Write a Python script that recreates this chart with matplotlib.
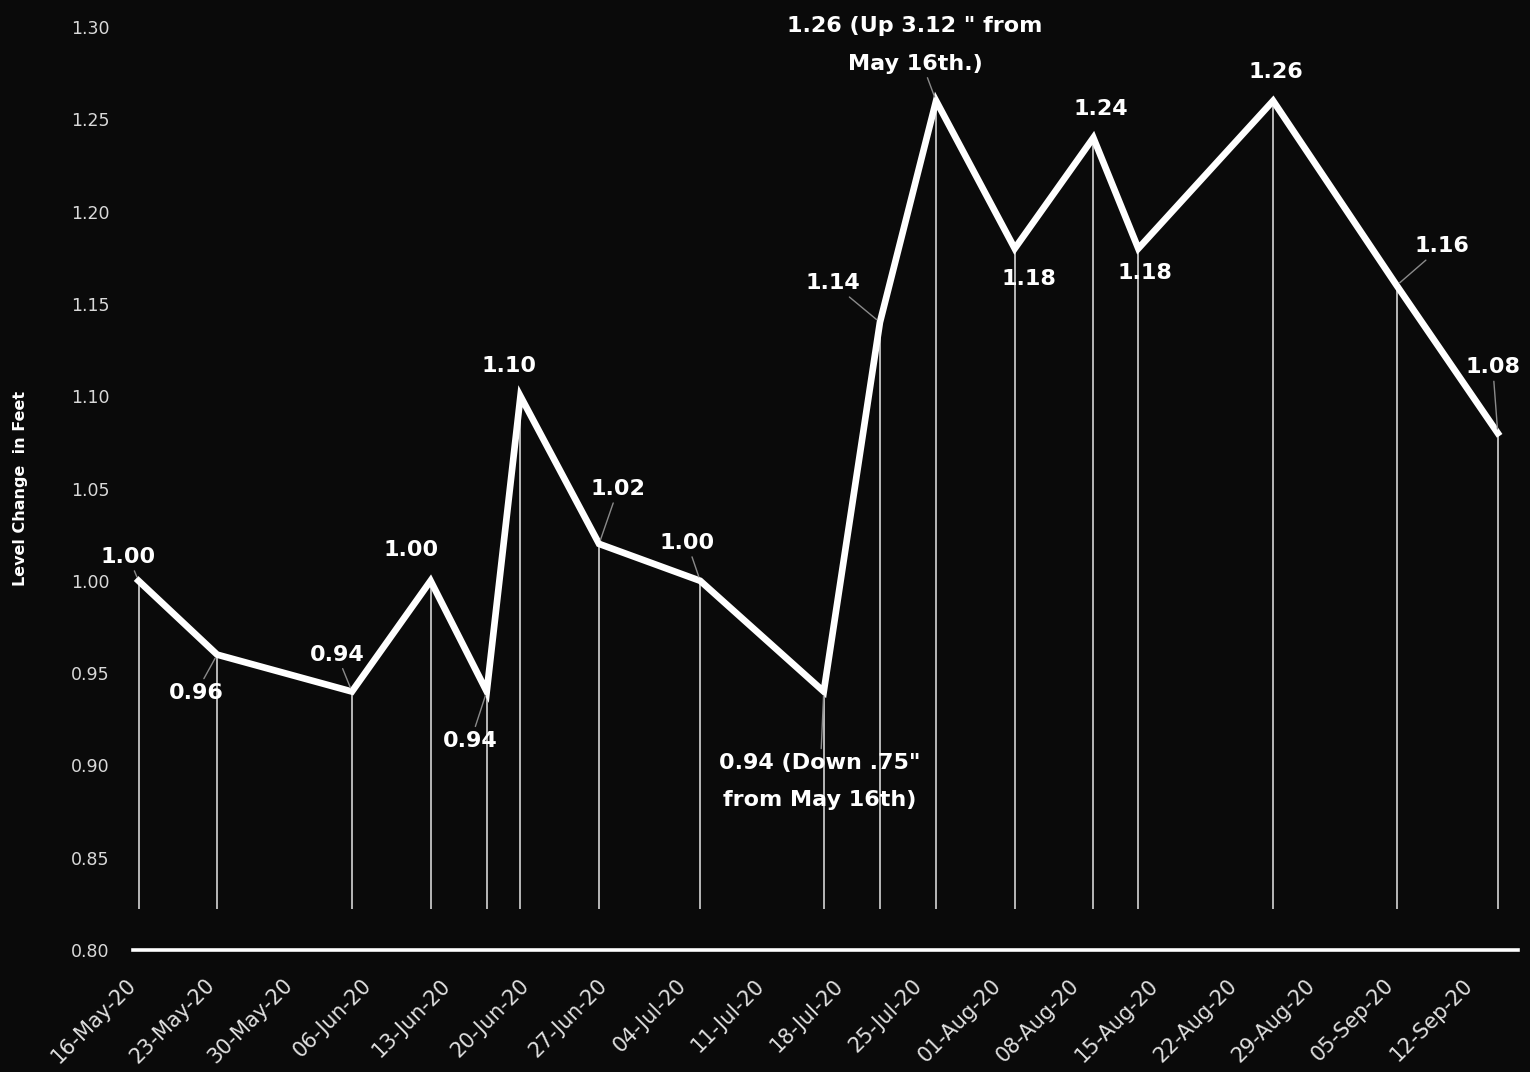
import pandas as pd
import matplotlib
matplotlib.use('Agg')
import matplotlib.pyplot as plt
import matplotlib.dates as mdates
import matplotlib.transforms as mtransforms

# readings of the level gauge
dates = pd.to_datetime(['2020-05-16', '2020-05-23', '2020-06-04', '2020-06-11',
                        '2020-06-16', '2020-06-19', '2020-06-26', '2020-07-05',
                        '2020-07-16', '2020-07-21', '2020-07-26', '2020-08-02',
                        '2020-08-09', '2020-08-13', '2020-08-25', '2020-09-05',
                        '2020-09-14'])
levels = [1.00, 0.96, 0.94, 1.00, 0.94, 1.10, 1.02, 1.00, 0.94, 1.14,
          1.26, 1.18, 1.24, 1.18, 1.26, 1.16, 1.08]
point_labels = ['1.00', '0.96', '0.94', '1.00', '0.94', '1.10', '1.02', '1.00',
                '0.94 (Down .75"\nfrom May 16th)', '1.14',
                '1.26 (Up 3.12 " from\nMay 16th.)', '1.18', '1.24', '1.18',
                '1.26', '1.16', '1.08']
tick_dates = pd.date_range('2020-05-16', '2020-09-12', freq='7D')
y_ticks = [0.80, 0.85, 0.90, 0.95, 1.00, 1.05, 1.10, 1.15, 1.20, 1.25, 1.30]

# label placement (offset in pixels from the point) and leader line flag
label_offsets = [(-10, 24), (-21, -38), (-15, 37), (-20, 31), (-16, -49),
                 (-11, 30), (19, 55), (-13, 38), (-4, -90), (-47, 39),
                 (-21, 56), (14, -30), (7, 29), (7, -24), (3, 29),
                 (45, 39), (-5, 66)]
leaders = [True, True, True, False, True, False, True, True, True, True,
           True, False, False, False, False, True, True]

BG = '#0a0a0a'
plt.rcParams['font.family'] = ['DejaVu Sans']

fig = plt.figure(figsize=(15.3, 10.72), dpi=100, facecolor=BG)
ax = fig.add_axes([133 / 1530, 1 - 950 / 1072, 1385 / 1530, 923 / 1072])
ax.set_facecolor(BG)

ax.vlines(dates, 0.822, levels, color='#e6e6e6', lw=1.1, zorder=2)
ax.plot(dates, levels, color='white', lw=4.8, solid_joinstyle='miter', zorder=3)

for d, v, txt, (dx, dy), lead in zip(dates, levels, point_labels, label_offsets, leaders):
    arrow = dict(arrowstyle='-', color='#8a8a8a', lw=1.0, shrinkA=1, shrinkB=3) if lead else None
    ax.annotate(txt, xy=(d, v), xytext=(dx, dy), textcoords='offset pixels',
                ha='center', va='center', multialignment='center',
                color='white', fontsize=16, fontweight='bold', linespacing=2.1,
                arrowprops=arrow, zorder=4)

x0 = mdates.date2num(dates[0])
ax.set_xlim(x0 - 0.49, x0 + 122.8)
ax.set_ylim(0.80, 1.30)

ax.set_xticks(tick_dates)
ax.set_yticks(y_ticks)
ax.set_yticklabels([f'{t:.2f}' for t in y_ticks], fontsize=12.5, color='#d9d9d9')
ax.tick_params(axis='x', length=0, pad=18)
ax.tick_params(axis='y', length=0, pad=17)
ax.set_xticklabels([t.strftime('%d-%b-%y') for t in tick_dates], rotation=45,
                   ha='right', va='top', rotation_mode='anchor',
                   fontsize=15, color='#e0e0e0')
shift = mtransforms.ScaledTranslation(-13 / 100, 0, fig.dpi_scale_trans)
for lab in ax.get_xticklabels():
    lab.set_transform(lab.get_transform() + shift)

for side in ['top', 'right', 'left']:
    ax.spines[side].set_visible(False)
ax.spines['bottom'].set_color('white')
ax.spines['bottom'].set_linewidth(2.6)

ax.set_ylabel('Level Change  in Feet', color='white', fontsize=11.5, fontweight='bold')
ax.yaxis.set_label_coords(-0.0755, 0.5)

fig.savefig('out.png', dpi=100, facecolor=BG)
